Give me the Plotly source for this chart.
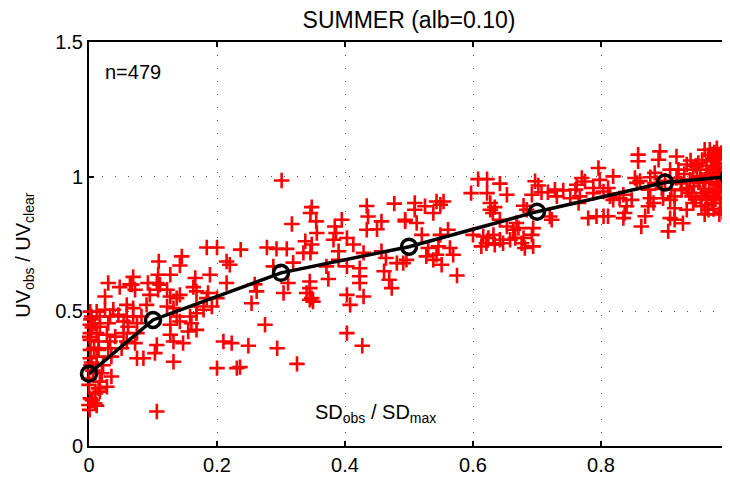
import plotly.graph_objects as go

# Binned mean curve
bin_x = [0.0, 0.1, 0.3, 0.5, 0.7, 0.9, 1.0]
bin_y = [0.268, 0.468, 0.643, 0.740, 0.870, 0.978, 1.000]

# Scatter observations (SD_obs/SD_max, UV_obs/UV_clear), grouped by region
pts_low = [
    (0.184,0.737),(0.200,0.737),(0.237,0.729),(0.109,0.685),(0.145,0.704),(0.142,0.670),(0.215,0.685),(0.220,0.673),
    (0.189,0.636),(0.069,0.628),(0.108,0.636),(0.127,0.636),(0.166,0.624),(0.030,0.605),(0.048,0.590),(0.064,0.600),
    (0.092,0.605),(0.106,0.605),(0.215,0.605),(0.163,0.590),
    (0.067,0.599),(0.111,0.599),(0.072,0.580),(0.108,0.580),(0.122,0.580),(0.168,0.574),(0.186,0.568),(0.025,0.555),
    (0.095,0.561),(0.127,0.555),(0.137,0.549),(0.142,0.561),(0.184,0.549),(0.200,0.549),
    (0.002,0.499),(0.012,0.499),(0.025,0.506),(0.038,0.506),(0.059,0.524),(0.069,0.512),(0.090,0.524),(0.122,0.518),
    (0.132,0.512),(0.168,0.518),(0.179,0.506),(0.192,0.518),
    (0.004,0.481),(0.017,0.481),(0.033,0.481),(0.046,0.487),(0.059,0.481),(0.069,0.481),(0.082,0.481),(0.137,0.481),
    (0.158,0.481),(0.168,0.493),
    (0.002,0.450),(0.009,0.456),(0.017,0.443),(0.030,0.456),(0.054,0.462),(0.061,0.443),(0.075,0.456),(0.127,0.450),
    (0.142,0.462),(0.160,0.456),(0.168,0.431),(0.155,0.425),
    (0.002,0.419),(0.012,0.419),(0.028,0.413),(0.041,0.406),(0.054,0.419),(0.075,0.419),(0.127,0.413),(0.132,0.388),
    (0.147,0.382),(0.002,0.394),(0.015,0.388),(0.033,0.388),(0.059,0.388),(0.072,0.382),
    (0.002,0.357),(0.015,0.357),(0.030,0.363),(0.051,0.363),(0.106,0.375),(0.103,0.345),(0.075,0.326),(0.085,0.326),
    (0.132,0.313),(0.210,0.388),(0.223,0.382),(0.002,0.326),(0.012,0.332),(0.035,0.332),(0.200,0.289),(0.231,0.289),
    (0.035,0.258),(0.017,0.239),(0.028,0.220),(0.000,0.227),(0.015,0.214),(0.002,0.177),(0.000,0.152),(0.009,0.159),
    (0.001,0.134),(0.106,0.128),(0.017,0.202),
    (0.003,0.300),(0.006,0.280),(0.000,0.250),(0.004,0.310),(0.008,0.365),(0.001,0.405),(0.005,0.440),(0.003,0.470),
    (0.010,0.195),(0.005,0.170),(0.012,0.150),(0.020,0.270),(0.022,0.300),
]

pts_mid = [
    (0.301,0.986),(0.348,0.887),(0.346,0.865),(0.434,0.891),(0.436,0.852),(0.477,0.900),(0.317,0.824),(0.355,0.834),
    (0.356,0.791),(0.384,0.815),(0.395,0.840),(0.386,0.791),(0.434,0.803),(0.450,0.805),(0.457,0.834),(0.494,0.834),
    (0.278,0.737),(0.293,0.732),(0.309,0.732),(0.338,0.760),(0.335,0.717),(0.348,0.748),(0.346,0.717),(0.319,0.681),
    (0.288,0.667),(0.382,0.766),(0.403,0.772),(0.413,0.748),(0.390,0.723),(0.390,0.691),(0.429,0.717),(0.457,0.723),
    (0.464,0.698),(0.481,0.679),(0.491,0.679),(0.496,0.691),(0.371,0.667),(0.403,0.667),(0.423,0.660),(0.423,0.630),
    (0.374,0.620),(0.345,0.611),(0.461,0.649),(0.469,0.617),(0.311,0.605),(0.259,0.600),
    (0.345,0.586),(0.423,0.605),(0.473,0.586),(0.262,0.574),(0.304,0.568),(0.340,0.568),(0.348,0.549),(0.350,0.536),
    (0.345,0.543),(0.403,0.561),(0.408,0.524),(0.429,0.555),(0.254,0.530),(0.275,0.450),(0.249,0.372),(0.294,0.363),
    (0.325,0.305),(0.236,0.293),(0.403,0.419),(0.427,0.372),
    (0.608,0.991),(0.622,0.991),(0.642,0.974),(0.597,0.939),(0.622,0.939),(0.653,0.933),(0.697,0.983),(0.702,0.967),
    (0.707,0.942),(0.692,0.933),(0.717,0.942),(0.728,0.952),(0.741,0.949),(0.731,0.927),
    (0.509,0.902),(0.525,0.890),(0.543,0.908),(0.549,0.896),(0.554,0.908),(0.538,0.865),(0.509,0.877),(0.494,0.840),
    (0.512,0.828),(0.627,0.902),(0.634,0.887),(0.631,0.865),(0.627,0.877),(0.642,0.840),(0.653,0.815),(0.668,0.828),
    (0.663,0.803),(0.671,0.809),(0.679,0.892),(0.684,0.877),(0.720,0.852),(0.723,0.840),(0.694,0.809),(0.692,0.784),
    (0.520,0.784),(0.561,0.803),(0.549,0.784),(0.600,0.784),
    (0.616,0.778),(0.624,0.772),(0.632,0.784),(0.642,0.766),(0.613,0.741),(0.621,0.753),(0.634,0.747),(0.647,0.753),
    (0.658,0.766),(0.666,0.772),(0.679,0.772),(0.681,0.735),(0.694,0.741),(0.676,0.753),
    (0.530,0.735),(0.543,0.710),(0.538,0.691),(0.551,0.673),(0.564,0.735),(0.569,0.710),(0.527,0.704),(0.546,0.741),
    (0.575,0.633),
]

pts_high = [
    (0.858,1.082),(0.858,1.057),(0.892,1.094),(0.890,1.063),(0.918,1.075),(0.796,1.032),(0.798,0.988),(0.819,1.001),
    (0.770,0.995),(0.775,0.982),(0.762,0.970),(0.760,0.952),
    (0.788,0.958),(0.788,0.939),(0.804,0.945),(0.811,0.958),(0.814,0.927),(0.819,0.914),(0.829,0.920),(0.835,0.933),
    (0.848,0.914),(0.840,0.890),(0.837,0.865),(0.835,0.846),
    (0.752,0.920),(0.767,0.927),(0.765,0.902),(0.780,0.846),(0.793,0.853),(0.804,0.853),(0.811,0.853),(0.869,0.853),
    (0.863,0.815),(0.853,0.995),(0.856,0.977),(0.861,0.984),(0.877,0.998),(0.884,1.014),(0.887,0.977),(0.874,0.952),
    (0.877,0.920),(0.874,0.890),(0.882,0.902),
    (0.908,1.026),(0.921,1.026),(0.918,0.995),(0.910,0.952),(0.915,0.927),(0.908,0.914),(0.897,0.920),(0.915,0.883),
    (0.908,0.846),(0.915,0.840),(0.928,0.827),(0.905,0.797),
    (0.934,1.045),(0.944,1.026),(0.952,1.051),(0.939,0.989),(0.934,0.958),(0.942,0.927),(0.944,0.902),(0.934,0.877),
    (0.955,1.001),(0.960,0.977),(0.960,0.939),(0.965,0.914),(0.957,0.890),(0.968,0.877),(0.955,1.026),
    (0.970,1.100),(0.981,1.106),(0.988,1.088),(0.975,1.069),(0.983,1.051),(0.991,1.063),(0.975,1.026),(0.986,1.001),
    (0.981,0.970),(0.991,0.952),(0.975,0.927),(0.986,0.902),(0.994,0.883),(0.973,0.902),(0.999,0.964),
    (0.965,1.040),(0.995,1.030),(0.998,1.010),(0.990,0.990),(0.970,0.995),(0.945,0.965),(0.962,0.955),(0.978,0.945),
    (0.995,0.925),(1.000,1.045),(0.985,1.075),(0.968,1.080),(0.950,1.000),(0.930,1.010),(0.925,0.975),(0.900,0.985),
    (0.895,0.955),(0.985,0.860),(0.962,0.860),
    (0.972,1.058),(0.979,1.035),(0.993,1.045),(0.999,1.080),(0.992,1.018),(0.983,1.015),(0.966,1.012),(0.958,1.062),
    (0.948,1.040),(0.940,1.060),(0.996,0.992),(0.988,0.975),(0.974,0.980),(0.963,0.990),(0.953,0.978),(0.997,0.958),
    (0.984,0.938),(0.969,0.945),(0.956,0.925),(0.998,0.905),(0.979,0.915),(0.966,0.895),(0.990,0.870),(0.976,0.880),
    (0.948,0.915),(0.938,0.940),(0.926,0.950),(0.992,1.095),(0.977,1.090),(0.962,1.100),
]

x_ticks = [0, 0.2, 0.4, 0.6, 0.8, 1.0]
x_tick_labels = ["0", "0.2", "0.4", "0.6", "0.8", "1"]
y_ticks = [0, 0.5, 1.0, 1.5]
y_tick_labels = ["0", "0.5", "1", "1.5"]

all_pts = pts_low + pts_mid + pts_high
sx = [p[0] for p in all_pts]
sy = [p[1] for p in all_pts]

FONT = "Liberation Sans, Arial, Helvetica, sans-serif"

fig = go.Figure()
fig.add_trace(go.Scatter(
    x=sx, y=sy, mode="markers", cliponaxis=False,
    marker=dict(symbol="cross-thin", size=11, line=dict(color="#ff0000", width=2.6), color="#ff0000"),
    showlegend=False, hoverinfo="skip"))
fig.add_trace(go.Scatter(
    x=bin_x, y=bin_y, mode="lines+markers", cliponaxis=False,
    line=dict(color="black", width=3.5),
    marker=dict(symbol="circle-open", size=15, line=dict(color="black", width=3.5), color="black"),
    showlegend=False))

axis_common = dict(
    showline=True, linecolor="black", linewidth=2, mirror="ticks",
    ticks="inside", ticklen=5, tickwidth=1.5, tickcolor="black",
    showgrid=True, gridcolor="#555555", gridwidth=1, griddash="1px,12px",
    zeroline=False, layer="below traces", automargin=False,
    ticklabeloverflow="allow",
    tickfont=dict(family=FONT, size=20, color="black"),
)

# The page body adds an 8px offset; the figure is sized so the axes land where the reference has them.
fig.update_layout(
    width=722, height=472,
    margin=dict(l=81, r=1, t=34, b=34),
    paper_bgcolor="white", plot_bgcolor="white",
    title=dict(text="SUMMER (alb=0.10)", xref="paper", x=0.5, xanchor="center",
               yref="container", y=0.975, yanchor="middle",
               font=dict(family=FONT, size=23, color="black")),
    xaxis=dict(range=[0, 1], tickvals=x_ticks, ticktext=x_tick_labels, **axis_common),
    yaxis=dict(range=[0, 1.5], tickvals=y_ticks, ticktext=y_tick_labels, **axis_common),
    annotations=[
        dict(text="n=479", x=0.022, y=1.388, xref="x", yref="y", xanchor="left", yanchor="middle",
             showarrow=False, font=dict(family=FONT, size=20, color="black")),
        dict(text="SD<sub>obs</sub> / SD<sub>max</sub>", x=0.448, y=0.12, xref="x", yref="y",
             xanchor="center", yanchor="middle", showarrow=False,
             font=dict(family=FONT, size=20, color="black")),
        dict(text="UV<sub>obs</sub> / UV<sub>clear</sub>", x=-0.1, y=0.71, xref="paper", yref="y",
             xanchor="center", yanchor="middle", textangle=-90, showarrow=False,
             font=dict(family=FONT, size=20, color="black")),
    ],
)

fig.write_html("out.html")
